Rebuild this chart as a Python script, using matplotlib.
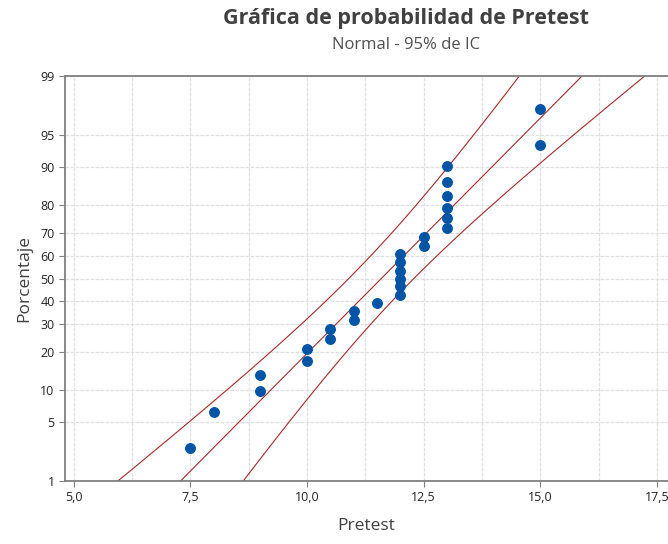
import numpy as np
import matplotlib.pyplot as plt
from statistics import NormalDist

# Pretest scores (sorted)
scores = [7.5, 8.0, 9.0, 9.0, 10.0, 10.0, 10.5, 10.5, 11.0, 11.0, 11.5,
          12.0, 12.0, 12.0, 12.0, 12.0, 12.0, 12.5, 12.5,
          13.0, 13.0, 13.0, 13.0, 13.0, 13.0, 15.0, 15.0]
pct_ticks = [1, 5, 10, 20, 30, 40, 50, 60, 70, 80, 90, 95, 99]
x_ticks = [5.0, 7.5, 10.0, 12.5, 15.0, 17.5]

nd = NormalDist()
ppf = np.vectorize(lambda p: nd.inv_cdf(p))

x = np.sort(np.array(scores))
n = len(x)
ranks = (np.arange(1, n + 1) - 0.3) / (n + 0.4)  # median ranks
zpts = ppf(ranks)

mu = x.mean()
sd = x.std(ddof=1)

zz = np.linspace(-3.5, 3.5, 300)
fit = mu + zz * sd
half = 1.96 * sd * np.sqrt((1 + zz ** 2 / 2) / n)

plt.rcParams['font.family'] = ['Open Sans', 'DejaVu Sans']

fig = plt.figure(figsize=(6.68, 5.44), dpi=100)
ax = fig.add_axes([0.0973, 0.1158, 0.9027, 0.7445])

ax.plot(fit, zz, c="#a52a2a", linewidth=0.8, zorder=2)
ax.plot(fit - half, zz, c="#a52a2a", linewidth=0.8, zorder=2)
ax.plot(fit + half, zz, c="#a52a2a", linewidth=0.8, zorder=2)
ax.scatter(x, zpts, s=62, c="#0054a6", zorder=3, linewidths=0)

ax.set_ylim(nd.inv_cdf(0.01), nd.inv_cdf(0.99))
ax.set_xlim(4.81, 17.74)
ax.set_yticks([nd.inv_cdf(p / 100) for p in pct_ticks])
ax.set_yticklabels([str(p) for p in pct_ticks])
ax.set_xticks(x_ticks)
ax.set_xticklabels([("%.1f" % v).replace(".", ",") for v in x_ticks])
ax.set_xticks(np.arange(6.25, 17.6, 2.5), minor=True)
ax.tick_params(axis='x', which='minor', length=0)

ax.grid(True, which='both', color="#e0e0e0", linewidth=0.9, linestyle=(0, (3, 1)))
ax.set_axisbelow(True)
ax.tick_params(labelsize=9, colors="#222222", length=4, color="#808080")
for s in ['left', 'bottom', 'top']:
    ax.spines[s].set_color("#808080")
    ax.spines[s].set_linewidth(1.3)
ax.spines['right'].set_visible(False)

ax.set_xlabel("Pretest", fontsize=12.5, color="#404040", labelpad=10)
ax.set_ylabel("Porcentaje", fontsize=12.5, color="#404040", labelpad=6)

fig.text(0.608, 0.966, "Gráfica de probabilidad de Pretest", ha='center', va='center',
         fontsize=15.5, fontweight='bold', color="#404040")
fig.text(0.608, 0.917, "Normal - 95% de IC", ha='center', va='center',
         fontsize=12, color="#505050")

fig.savefig("out.png", dpi=100)
